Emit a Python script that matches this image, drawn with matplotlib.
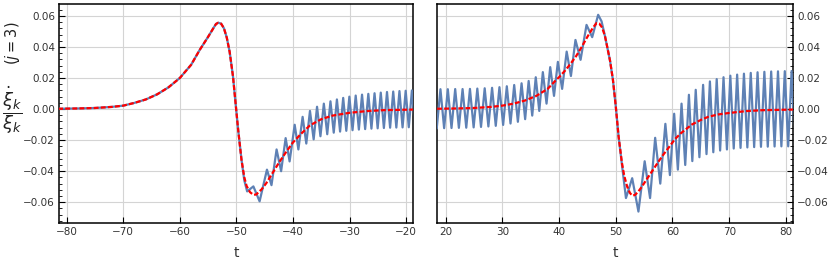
import matplotlib
matplotlib.use('Agg')
import matplotlib.pyplot as plt
from matplotlib.ticker import MultipleLocator

# smooth (red dashed) curve, left panel
left_red_t = [-81.5, -78, -75, -72, -70, -68, -66, -64, -62, -60, -58, -56.5, -55, -54,
              -53.6, -53.2, -52.7, -52.2, -51.7, -51.2, -50.6, -50.1, -49.7, -49.1, -48.6,
              -48.2, -47.6, -47.0, -46.5, -45.5, -44.7, -43.5, -42.4, -41, -40, -38.6, -37,
              -35, -33, -30, -27, -24, -18.5]
left_red_v = [0.0002, 0.0004, 0.0007, 0.0014, 0.0022, 0.0040, 0.0062, 0.0095, 0.0140, 0.0200,
              0.0285, 0.0380, 0.0465, 0.0525, 0.0548, 0.0556, 0.0550, 0.0520, 0.0460, 0.0370,
              0.0210, 0.0020, -0.0130, -0.0326, -0.0440, -0.0495, -0.0535, -0.0552, -0.0550,
              -0.0515, -0.0476, -0.0405, -0.0340, -0.0265, -0.0215, -0.0160, -0.0105, -0.0065,
              -0.0042, -0.0024, -0.0013, -0.0007, -0.0003]

# oscillating (blue) curve, left panel: follows the red one up to t=-49.7, then extrema
left_osc_t = [-49.1, -48.6, -48.1, -47.0, -45.9, -44.6, -43.8, -42.9, -42.1, -41.3, -40.6,
              -39.7, -39.05, -38.3, -37.65, -37.0, -36.35, -35.75, -35.15, -34.55, -33.95,
              -33.38, -32.8, -32.24, -31.68, -31.13, -30.58, -30.04, -29.48, -28.92, -28.36,
              -27.8, -27.25, -26.69, -26.14, -25.59, -25.04, -24.49, -23.94, -23.39, -22.84,
              -22.29, -21.74, -21.19, -20.64, -20.09, -19.54, -18.99, -18.44]
left_osc_v = [-0.0326, -0.046, -0.053, -0.0498, -0.0594, -0.039, -0.049, -0.026, -0.040,
              -0.0187, -0.0337, -0.0101, -0.026, -0.005, -0.0222, -0.0012, -0.0195, 0.0015,
              -0.0175, 0.0035, -0.0162, 0.0050, -0.0152, 0.0062, -0.0145, 0.0072, -0.0140,
              0.0080, -0.0136, 0.0087, -0.0132, 0.0093, -0.0129, 0.0098, -0.0126, 0.0102,
              -0.0124, 0.0106, -0.0122, 0.0110, -0.0120, 0.0113, -0.0119, 0.0116, -0.0118,
              0.0118, -0.0117, 0.0120, -0.0116]

# smooth (red dashed) curve, right panel
right_red_t = [18.5, 22, 25, 28, 30, 32, 34, 36, 38, 39.3, 40, 41, 42, 43, 44, 45, 46, 46.6,
               47.1, 47.6, 48.1, 48.5, 49, 49.5, 50, 50.5, 51.1, 51.5, 52, 52.5, 52.9, 53.4,
               54, 54.6, 55.5, 56.5, 57.5, 58.5, 59.5, 60.4, 61.5, 63.4, 65, 66.3, 68, 70,
               73, 76, 81.5]
right_red_v = [0.0002, 0.0004, 0.0007, 0.0014, 0.0022, 0.0035, 0.0055, 0.0085, 0.0130, 0.0180,
               0.0205, 0.0245, 0.0290, 0.0340, 0.0400, 0.0465, 0.0525, 0.0553, 0.0550, 0.0525,
               0.0470, 0.0400, 0.0310, 0.0190, 0.0020, -0.0176, -0.0348, -0.0430, -0.0498,
               -0.0540, -0.0557, -0.0553, -0.0530, -0.0500, -0.0450, -0.0395, -0.0340, -0.0288,
               -0.0240, -0.0195, -0.0155, -0.0100, -0.0070, -0.0050, -0.0035, -0.0025, -0.0013,
               -0.0007, -0.0003]

# oscillating (blue) curve, right panel
right_blue_t = [18.45, 19.10, 19.75, 20.40, 21.05, 21.70, 22.35, 23.00, 23.65, 24.30, 24.95,
                25.60, 26.25, 26.90, 27.55, 28.20, 28.85, 29.50, 30.15, 30.80, 31.45, 32.10,
                32.75, 33.40, 34.03, 34.65, 35.28, 35.90, 36.52, 37.15, 37.80, 38.45, 39.12,
                39.80, 40.55, 41.35, 42.10, 42.90, 43.80, 44.85, 45.85, 46.90, 47.50, 48.10,
                48.50, 49.00, 49.50, 50.00, 50.50, 51.10, 51.80, 52.90, 54.00, 55.10, 56.05,
                56.95, 57.85, 58.75, 59.55, 60.30, 60.95, 61.60, 62.25, 62.90, 63.50, 64.10,
                64.75, 65.40, 66.00, 66.60, 67.20, 67.80, 68.40, 69.00, 69.60, 70.20, 70.80,
                71.40, 72.00, 72.60, 73.20, 73.80, 74.40, 75.00, 75.60, 76.20, 76.80, 77.40,
                78.00, 78.60, 79.20, 79.80, 80.40, 81.00, 81.60]
right_blue_v = [-0.0123, 0.0128, -0.0123, 0.0128, -0.0122, 0.0129, -0.0121, 0.0129, -0.0120,
                0.0130, -0.0118, 0.0132, -0.0115, 0.0134, -0.0112, 0.0137, -0.0108, 0.0141,
                -0.0102, 0.0147, -0.0093, 0.0155, -0.0082, 0.0166, -0.0065, 0.0181, -0.0042,
                0.0205, -0.0012, 0.0238, 0.0035, 0.0270, 0.0085, 0.0304, 0.0130, 0.0370,
                0.0213, 0.0445, 0.0317, 0.0542, 0.0463, 0.0607, 0.0565, 0.0470, 0.0400,
                0.0310, 0.0190, 0.0020, -0.0176, -0.0360, -0.0573, -0.0445, -0.0660, -0.0336,
                -0.0573, -0.0185, -0.0480, -0.0095, -0.0425, -0.0030, -0.0390, 0.0035, -0.0360,
                0.0092, -0.0335, 0.0124, -0.0310, 0.0156, -0.0290, 0.0178, -0.0278, 0.0193,
                -0.0267, 0.0205, -0.0260, 0.0215, -0.0254, 0.0222, -0.0250, 0.0228, -0.0247,
                0.0233, -0.0245, 0.0237, -0.0243, 0.0240, -0.0242, 0.0242, -0.0241, 0.0243,
                -0.0240, 0.0244, -0.0240, 0.0245, -0.0240]

left_xticks = [-80, -70, -60, -50, -40, -30, -20]
right_xticks = [20, 30, 40, 50, 60, 70, 80]
yticks = [-0.06, -0.04, -0.02, 0.00, 0.02, 0.04, 0.06]

left_blue_t = [t for t in left_red_t if t <= -49.7] + left_osc_t
left_blue_v = [v for t, v in zip(left_red_t, left_red_v) if t <= -49.7] + left_osc_v

blue = '#5E81B5'
red = '#FF0000'
tick_col = '#333333'

fig = plt.figure(figsize=(8.3, 2.62), dpi=100)
ax1 = fig.add_axes([0.0714, 0.148, 0.4265, 0.837])
ax2 = fig.add_axes([0.5269, 0.148, 0.4282, 0.837])

panels = [(ax1, left_blue_t, left_blue_v, left_red_t, left_red_v, left_xticks, (-81.3, -18.75)),
          (ax2, right_blue_t, right_blue_v, right_red_t, right_red_v, right_xticks, (18.55, 81.2))]

for ax, bt, bv, rt, rv, xt, xl in panels:
    ax.plot(bt, bv, color=blue, lw=1.6, solid_joinstyle='round', zorder=3)
    ax.plot(rt, rv, color=red, lw=1.6, dashes=(2.2, 1.0), zorder=4)
    ax.set_xlim(*xl)
    ax.set_ylim(-0.0735, 0.0677)
    ax.set_xticks(xt)
    ax.set_xticklabels([str(x).replace('-', '\u2212') for x in xt])
    ax.set_yticks(yticks)
    ax.set_yticklabels([('%.2f' % y).replace('-', '\u2212') for y in yticks])
    ax.yaxis.set_minor_locator(MultipleLocator(0.004))
    ax.grid(True, color='#d4d4d4', lw=0.8)
    ax.set_axisbelow(True)
    for s in ax.spines.values():
        s.set_linewidth(1.1)
        s.set_color('black')
    ax.tick_params(axis='both', which='major', direction='in', length=4, width=0.8,
                   labelsize=7.5, labelcolor=tick_col, pad=3)
    ax.tick_params(axis='y', which='minor', direction='in', length=2, width=0.6)
    ax.tick_params(axis='x', top=False)
    ax.set_xlabel('t', fontsize=10, color=tick_col, labelpad=6)

ax1.tick_params(axis='y', which='both', left=True, right=False)
ax2.tick_params(axis='y', which='both', left=False, right=True, labelleft=False, labelright=True)

fig.text(0.0145, 0.58, r'$\dfrac{\dot{\xi}_k}{\xi_k}$', fontsize=13,
         ha='center', va='center', color='#222222')
fig.text(0.0155, 0.835, r'$(j=3)$', rotation=90, fontsize=10.5,
         ha='center', va='center', color='#222222')

fig.savefig('out.png', dpi=100)
